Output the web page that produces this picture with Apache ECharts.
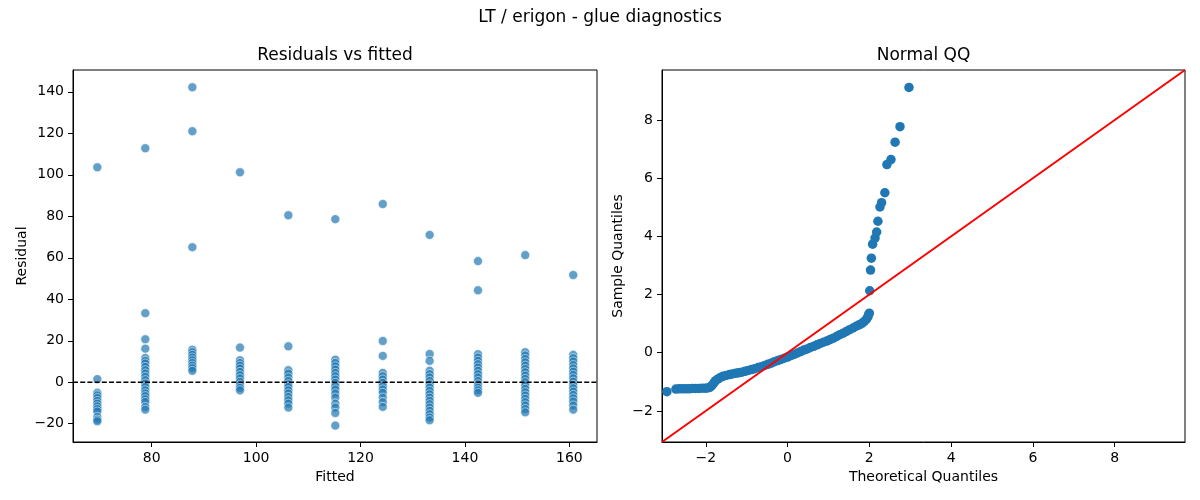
<!DOCTYPE html>
<html>
<head>
<meta charset="utf-8">
<script src="https://cdn.jsdelivr.net/npm/echarts@6/dist/echarts.min.js"></script>
<style>
html,body{margin:0;padding:0;background:#fff;}
#chart{width:1200px;height:500px;}
</style>
</head>
<body>
<div id="chart"></div>
<script>
// ---------- data ----------
const suptitle = "LT / erigon - glue diagnostics";
const leftTitle = "Residuals vs fitted";
const rightTitle = "Normal QQ";

const fittedValues = [69.58, 78.77, 87.78, 96.91, 106.17, 115.17, 124.26, 133.24, 142.5, 151.55, 160.75];
const residualsCol0 = [103.6, 1.5, -5.1, -6.3, -7.6, -9.0, -10.3, -11.6, -12.9, -14.1, -16.7, -18.0, -18.8];
const residualsCol1 = [112.8, 33.3, 20.7, 16.2, 11.7, 10.3, 9.0, 7.4, 5.8, 4.2, 2.6, 1.0, -0.6, -2.3, -3.9, -5.4, -6.7, -8.2, -9.5, -11.9, -13.2];
const residualsCol2 = [142.2, 121.0, 65.1, 15.7, 14.5, 13.2, 11.9, 10.6, 9.3, 8.0, 6.8, 5.5];
const residualsCol3 = [101.2, 16.7, 10.6, 9.3, 8.0, 6.6, 5.0, 3.4, 1.8, 0.2, -1.4, -2.7, -3.9];
const residualsCol4 = [80.5, 17.3, 5.8, 4.2, 2.3, 0.6, -1.0, -2.3, -3.9, -5.4, -7.1, -8.7, -10.3, -12.2];
const residualsCol5 = [78.6, 10.9, 9.3, 7.7, 6.1, 4.5, 2.9, 1.3, -0.3, -1.9, -3.5, -5.4, -7.4, -10.3, -12.2, -14.8, -20.9];
const residualsCol6 = [85.9, 19.9, 12.7, 4.5, 2.9, 1.3, -0.3, -1.9, -3.5, -5.1, -7.4, -9.6, -11.9];
const residualsCol7 = [71.0, 13.6, 10.3, 5.5, 3.9, 2.3, 0.6, -1.0, -2.6, -4.2, -5.8, -7.4, -9.0, -10.6, -12.2, -13.8, -15.4, -17.0, -18.3];
const residualsCol8 = [58.4, 44.3, 13.5, 11.9, 10.3, 8.7, 7.1, 5.5, 3.9, 2.3, 0.6, -1.0, -2.6, -3.9, -5.1];
const residualsCol9 = [61.3, 14.5, 12.9, 11.2, 9.6, 8.0, 6.4, 4.8, 3.2, 1.6, 0.0, -1.6, -3.2, -4.8, -6.4, -8.0, -9.6, -11.2, -12.9, -14.5];
const residualsCol10 = [51.7, 13.2, 11.6, 10.0, 8.3, 6.7, 5.1, 3.5, 1.9, 0.3, -1.3, -2.9, -4.5, -6.1, -7.7, -9.3, -11.2, -13.2];
const residualColumns = [residualsCol0, residualsCol1, residualsCol2, residualsCol3, residualsCol4, residualsCol5,
  residualsCol6, residualsCol7, residualsCol8, residualsCol9, residualsCol10];

const qqTheoretical = [-2.95, -2.73, -2.65, -2.57, -2.49, -2.41, -2.33, -2.25, -2.17, -2.09, -2.01, -1.95,
  -1.90, -1.85, -1.80, -1.76, -1.70, -1.64, -1.58, -1.50, -1.42, -1.35, -1.27, -1.20, -1.12, -1.04, -0.96,
  -0.88, -0.80, -0.72, -0.64, -0.56, -0.48, -0.40, -0.32, -0.24, -0.16, -0.08, 0.00, 0.08, 0.16, 0.24,
  0.32, 0.40, 0.48, 0.56, 0.64, 0.72, 0.80, 0.88, 0.96, 1.04, 1.12, 1.20, 1.28, 1.36, 1.44, 1.52, 1.60,
  1.68, 1.75, 1.82, 1.88, 1.93, 1.96, 1.98,
  2.00, 2.01, 2.03, 2.05, 2.08, 2.14, 2.18, 2.21, 2.26, 2.30, 2.38, 2.43, 2.53, 2.63, 2.75, 2.97];
const qqSample = [-1.34, -1.25, -1.24, -1.24, -1.24, -1.24, -1.23, -1.23, -1.23, -1.22, -1.22, -1.21,
  -1.19, -1.13, -1.04, -0.96, -0.90, -0.85, -0.81, -0.78, -0.75, -0.73, -0.71, -0.69, -0.67, -0.64, -0.61,
  -0.58, -0.55, -0.51, -0.48, -0.44, -0.40, -0.36, -0.31, -0.27, -0.23, -0.19, -0.15, -0.10, -0.06, -0.01,
  0.04, 0.09, 0.13, 0.18, 0.22, 0.27, 0.32, 0.36, 0.40, 0.45, 0.50, 0.56, 0.62, 0.67, 0.73, 0.79, 0.85,
  0.91, 0.96, 1.01, 1.08, 1.15, 1.22, 1.30,
  1.36, 2.13, 2.84, 3.25, 3.73, 3.94, 4.15, 4.52, 5.01, 5.16, 5.50, 6.47, 6.64, 7.24, 7.77, 9.12];

const leftXLim = [64.92, 165.3];
const leftYLim = [-28.8, 150.5];
const leftXTicks = [80, 100, 120, 140, 160];
const leftYTicks = [-20, 0, 20, 40, 60, 80, 100, 120, 140];
const qqLim = [-3.07, 9.72];
const qqTicks = [-2, 0, 2, 4, 6, 8];

// ---------- build ----------
const residualPoints = [];
residualColumns.forEach((col, i) => col.forEach(v => residualPoints.push([fittedValues[i], v])));
const qqPoints = qqTheoretical.map((x, i) => [x, qqSample[i]]);

const FONT = "DejaVu Sans";
function axisBase(gridIndex, lim, ticks, name, isY, nameGap) {
  return {
    type: 'value', gridIndex: gridIndex, min: lim[0], max: lim[1],
    name: name, nameLocation: 'middle', nameGap: nameGap,
    nameTextStyle: {color: '#000', fontSize: 14, fontFamily: FONT},
    axisLine: {show: true, onZero: false, lineStyle: {color: '#000', width: 1}},
    axisTick: {show: true, inside: false, length: 5, customValues: ticks, lineStyle: {color: '#000', width: 1}},
    axisLabel: {show: true, customValues: ticks, color: '#000', fontSize: 14, fontFamily: FONT, margin: isY ? 9 : 9,
      formatter: v => (v < 0 ? '\u2212' + Math.abs(v) : String(v))},
    splitLine: {show: false}
  };
}

const TITLE_STYLE = {fontFamily: FONT, fontSize: 17, fontWeight: 'normal', color: '#000'};
const chart = echarts.init(document.getElementById('chart'), null, {renderer: 'canvas'});
chart.setOption({
  animation: false,
  backgroundColor: '#fff',
  title: [
    {text: suptitle, left: 600, top: 9, textAlign: 'center', padding: 0, textStyle: TITLE_STYLE},
    {text: leftTitle, left: 335, top: 47, textAlign: 'center', padding: 0, textStyle: TITLE_STYLE},
    {text: rightTitle, left: 923.5, top: 47, textAlign: 'center', padding: 0, textStyle: TITLE_STYLE}
  ],
  grid: [
    {left: 73, top: 70, width: 524, height: 372, show: true, borderColor: '#000', borderWidth: 1, backgroundColor: 'transparent'},
    {left: 662, top: 70, width: 523, height: 372, show: true, borderColor: '#000', borderWidth: 1, backgroundColor: 'transparent'}
  ],
  xAxis: [
    axisBase(0, leftXLim, leftXTicks, 'Fitted', false, 28),
    axisBase(1, qqLim, qqTicks, 'Theoretical Quantiles', false, 28)
  ],
  yAxis: [
    axisBase(0, leftYLim, leftYTicks, 'Residual', true, 44),
    axisBase(1, qqLim, qqTicks, 'Sample Quantiles', true, 37)
  ],
  series: [
    {type: 'scatter', xAxisIndex: 0, yAxisIndex: 0, data: residualPoints, symbolSize: 9,
      itemStyle: {color: '#1f77b4', opacity: 0.7, borderColor: '#ffffff', borderWidth: 0.75}, silent: true, z: 2},
    {type: 'line', xAxisIndex: 0, yAxisIndex: 0, data: [[leftXLim[0], 0], [leftXLim[1], 0]], symbol: 'none',
      lineStyle: {color: '#000', width: 1.3, type: [5, 2.2]}, silent: true, z: 3},
    {type: 'scatter', xAxisIndex: 1, yAxisIndex: 1, data: qqPoints, symbolSize: 9.5,
      itemStyle: {color: '#1f77b4', opacity: 1}, silent: true, z: 2},
    {type: 'line', xAxisIndex: 1, yAxisIndex: 1, data: [[qqLim[0], qqLim[0]], [qqLim[1], qqLim[1]]], symbol: 'none',
      lineStyle: {color: '#ff0000', width: 2}, silent: true, z: 3}
  ]
});
</script>
</body>
</html>
